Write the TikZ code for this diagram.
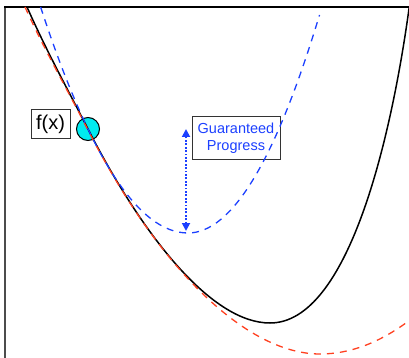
\documentclass[tikz,border=0pt]{standalone}
\usepackage{fontspec}
\setmainfont{Liberation Sans}
\usetikzlibrary{arrows.meta}
\definecolor{gblue}{RGB}{28,64,255}
\definecolor{gred}{RGB}{255,64,32}
\definecolor{gcyan}{RGB}{0,235,240}
\begin{document}
\begin{tikzpicture}[x=1pt,y=-1pt,
  fcurve/.style={black, line width=1.5pt},
  lowerq/.style={gred, line width=1.3pt, dash pattern=on 7pt off 6pt},
  upperq/.style={gblue, line width=1.3pt, dash pattern=on 7pt off 6pt},
  labelbox/.style={draw=black!80, line width=1pt, inner sep=0pt},
  gparrow/.style={gblue, line width=1.8pt, dash pattern=on 1.8pt off 1.6pt,
    {Triangle[width=8pt,length=8pt]}-{Triangle[width=8pt,length=8pt]}},
  leftaxis/.style={black!70, line width=1.6pt},
  topaxis/.style={black, line width=1.2pt}]
\useasboundingbox (0,0) rectangle (409,358);
% frame
\draw[leftaxis] (5,358) -- (5,7);
\draw[topaxis] (4.2,7) -- (409,7);
% labels
\node[labelbox, font=\fontsize{20}{22}\selectfont, minimum width=39pt, minimum height=29pt] (fx) at (50.5,124) {f(x)};
\node[labelbox, text=gblue, align=center, font=\fontsize{14.5}{16.5}\selectfont, minimum width=88pt, minimum height=43pt] (gp) at (236,138.5) {Guaranteed\\Progress};
\node[circle, fill=gcyan, draw=black, line width=1pt, minimum size=23pt, inner sep=0pt] (pt) at (88,129) {};
% curves
\begin{scope}
\clip (5,7) rectangle (409,358);
\draw[fcurve] (27,7) .. controls (47,52) and (68,90) .. (88,129)
  .. controls (145,240.2) and (213,323) .. (270,323)
  .. controls (349,323) and (392,135) .. (409.5,5);
\draw[lowerq] (25,7) .. controls (45,51) and (68,91) .. (88,130)
  .. controls (160.5,271.4) and (247.5,354) .. (320,354)
  .. controls (349.67,354) and (379.33,342.9) .. (409,320.7);
\draw[upperq] (40.6,7) .. controls (89.73,157.67) and (138.87,233) .. (188,233)
  .. controls (231.83,233) and (275.67,160.33) .. (319.5,15);
\end{scope}
% guaranteed progress arrow
\coordinate (gpTop) at (186,129);
\coordinate (gpBot) at (186,231);
\draw[gparrow] (gpBot) -- (gpTop);
\end{tikzpicture}
\end{document}
